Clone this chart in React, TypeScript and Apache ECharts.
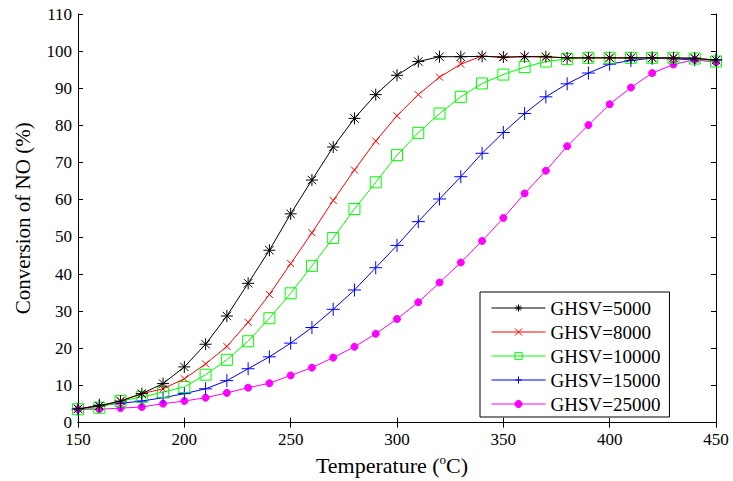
import React, { useEffect, useRef } from "react";
import * as echarts from "echarts";

const temperatures = [150, 160, 170, 180, 190, 200, 210, 220, 230, 240, 250, 260, 270, 280, 290, 300, 310, 320, 330, 340, 350, 360, 370, 380, 390, 400, 410, 420, 430, 440, 450];

const ghsv5000 = [3.7, 4.5, 5.8, 7.8, 10.5, 15.0, 21.1, 28.7, 37.5, 46.4, 56.2, 65.3, 74.2, 81.9, 88.3, 93.5, 97.2, 98.5, 98.5, 98.6, 98.4, 98.5, 98.5, 98.2, 98.2, 98.2, 98.2, 98.2, 98.2, 98.1, 97.6];
const ghsv8000 = [3.7, 4.5, 5.8, 7.8, 9.1, 11.8, 15.8, 20.5, 27.0, 34.5, 42.8, 51.1, 59.8, 68.0, 75.8, 82.6, 88.3, 93.0, 96.5, 98.7, 98.3, 98.6, 98.4, 98.2, 98.2, 98.2, 98.1, 98.2, 98.1, 98.0, 97.6];
const ghsv10000 = [3.6, 4.0, 5.8, 6.9, 8.2, 9.6, 12.9, 16.9, 21.9, 28.1, 34.8, 42.2, 49.7, 57.5, 64.7, 72.0, 78.0, 83.2, 87.7, 91.3, 93.7, 95.7, 97.2, 97.9, 98.2, 98.2, 98.2, 98.2, 98.2, 98.0, 97.2];
const ghsv15000 = [3.6, 4.7, 5.2, 5.8, 6.7, 7.8, 9.1, 11.3, 14.5, 17.7, 21.4, 25.6, 30.5, 35.7, 41.7, 47.7, 54.1, 60.2, 66.2, 72.5, 78.1, 83.2, 87.7, 91.2, 94.1, 96.5, 97.5, 98.1, 97.9, 97.7, 97.7];
const ghsv25000 = [3.6, 3.6, 3.9, 4.2, 5.1, 5.8, 6.7, 8.0, 9.4, 10.6, 12.7, 14.8, 17.5, 20.4, 23.9, 27.9, 32.4, 37.7, 43.1, 48.9, 55.1, 61.7, 67.8, 74.4, 80.1, 85.7, 90.2, 94.1, 96.4, 97.7, 97.0];

const seriesNames = ["GHSV=5000", "GHSV=8000", "GHSV=10000", "GHSV=15000", "GHSV=25000"];
const seriesValues = [ghsv5000, ghsv8000, ghsv10000, ghsv15000, ghsv25000];
const seriesColors = ["#000000", "#ff0000", "#00ff00", "#0000ff", "#ff00ff"];
const seriesSymbols = [
  "path://M10,0L10,20M0,10L20,10M3,3L17,17M3,17L17,3",
  "path://M0,0L10,10M0,10L10,0",
  "rect",
  "path://M10,0L10,20M0,10L20,10",
  "circle",
];
const seriesSymbolSizes = [12, 7, 11, 13, 7];
const seriesFilled = [true, true, false, true, true];

const FONT = "'Liberation Serif', 'Times New Roman', serif";

export default function App() {
  const ref = useRef<HTMLDivElement>(null);
  useEffect(() => {
    if (!ref.current) return;
    const chart = echarts.init(ref.current, undefined, { renderer: "svg" });
    const axisCommon = {
      type: "value" as const,
      axisLine: { show: true, lineStyle: { color: "#000", width: 1 } },
      axisTick: { show: true, inside: true, length: 5, lineStyle: { color: "#000" } },
      splitLine: { show: false },
    };
    const series = seriesNames.map((name, i) => ({
      name,
      type: "line" as const,
      data: temperatures.map((t, j) => [t, seriesValues[i][j]]),
      symbol: seriesSymbols[i],
      symbolSize: seriesSymbolSizes[i],
      showAllSymbol: true,
      lineStyle: { color: seriesColors[i], width: 1 },
      itemStyle: {
        color: seriesFilled[i] ? seriesColors[i] : "rgba(0,0,0,0)",
        borderColor: seriesColors[i],
        borderWidth: 1,
      },
      z: 10 - i,
    }));
    chart.setOption({
      animation: false,
      backgroundColor: "#fff",
      grid: { left: 78, right: 17, top: 14, bottom: 55 },
      xAxis: [
        {
          ...axisCommon,
          min: 150,
          max: 450,
          interval: 50,
          position: "bottom",
          axisLabel: { color: "#000", fontSize: 17, fontFamily: FONT, margin: 10, lineHeight: 14 },
          name: "{a|Temperature (}{s|o}{a|C)}",
          nameLocation: "middle",
          nameGap: 30,
          nameTextStyle: {
            color: "#000",
            fontSize: 22,
            fontFamily: FONT,
            padding: [0, 10, 0, 0],
            rich: {
              a: { fontSize: 22, fontFamily: FONT, color: "#000", lineHeight: 24 },
              s: { fontSize: 13, fontFamily: FONT, color: "#000", verticalAlign: "top", lineHeight: 16 },
            },
          },
        },
        {
          ...axisCommon,
          min: 150,
          max: 450,
          interval: 50,
          position: "top",
          axisLabel: { show: false },
        },
      ],
      yAxis: [
        {
          ...axisCommon,
          min: 0,
          max: 110,
          interval: 10,
          position: "left",
          axisLabel: { color: "#000", fontSize: 17, fontFamily: FONT, margin: 6, lineHeight: 14 },
          name: "Conversion of NO (%)",
          nameLocation: "middle",
          nameGap: 45,
          nameTextStyle: { color: "#000", fontSize: 21, fontFamily: FONT },
        },
        {
          ...axisCommon,
          min: 0,
          max: 110,
          interval: 10,
          position: "right",
          axisLabel: { show: false },
        },
      ],
      legend: {
        data: seriesNames,
        orient: "vertical",
        left: 480,
        top: 292,
        backgroundColor: "#fff",
        borderColor: "#000",
        borderWidth: 1,
        borderRadius: 0,
        padding: [6, 9, 3, 11],
        itemWidth: 54,
        itemHeight: 9,
        itemGap: 4,
        textStyle: { color: "#000", fontSize: 19, fontFamily: FONT, lineHeight: 20 },
        lineStyle: { width: 1 },
        itemStyle: { borderWidth: 1 },
      },
      series,
    });
    return () => chart.dispose();
  }, []);
  return (
    <div
      ref={ref}
      style={{ position: "fixed", left: 0, top: 0, width: 733, height: 481 }}
    />
  );
}
